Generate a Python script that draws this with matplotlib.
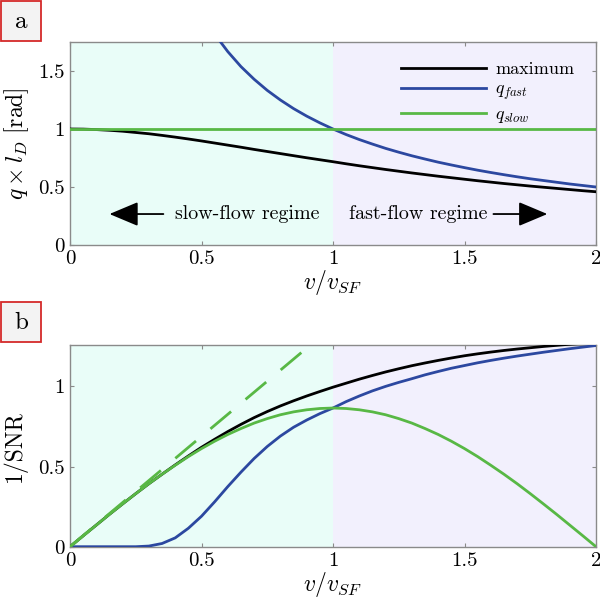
import numpy as np
import matplotlib
matplotlib.use("Agg")
import matplotlib.pyplot as plt
from matplotlib.patches import Rectangle

plt.rcParams['font.family'] = 'serif'
plt.rcParams['font.serif'] = ['cmr10', 'DejaVu Serif']
plt.rcParams['mathtext.fontset'] = 'cm'
plt.rcParams['axes.unicode_minus'] = False

# ---------------- data ----------------
v = [0.00, 0.05, 0.10, 0.15, 0.20, 0.25, 0.30, 0.35, 0.40, 0.45,
     0.50, 0.55, 0.60, 0.65, 0.70, 0.75, 0.80, 0.85, 0.90, 0.95,
     1.00, 1.05, 1.10, 1.15, 1.20, 1.25, 1.30, 1.35, 1.40, 1.45,
     1.50, 1.55, 1.60, 1.65, 1.70, 1.75, 1.80, 1.85, 1.90, 1.95, 2.00]

# panel a
q_max = [1.000, 0.999, 0.995, 0.989, 0.981, 0.970, 0.959, 0.945, 0.930, 0.914,
         0.897, 0.879, 0.861, 0.843, 0.824, 0.806, 0.788, 0.770, 0.752, 0.735,
         0.718, 0.700, 0.683, 0.667, 0.651, 0.636, 0.621, 0.607, 0.593, 0.580,
         0.567, 0.554, 0.542, 0.530, 0.519, 0.508, 0.498, 0.488, 0.478, 0.468, 0.459]
v_fast = [0.55, 0.60, 0.65, 0.70, 0.75, 0.80, 0.85, 0.90, 0.95,
          1.00, 1.05, 1.10, 1.15, 1.20, 1.25, 1.30, 1.35, 1.40, 1.45,
          1.50, 1.55, 1.60, 1.65, 1.70, 1.75, 1.80, 1.85, 1.90, 1.95, 2.00]
q_fast = [1.818, 1.667, 1.538, 1.429, 1.333, 1.250, 1.176, 1.111, 1.053,
          1.000, 0.952, 0.909, 0.870, 0.833, 0.800, 0.769, 0.741, 0.714, 0.690,
          0.667, 0.645, 0.625, 0.606, 0.588, 0.571, 0.556, 0.541, 0.526, 0.513, 0.500]
q_slow = [1.0] * len(v)

# panel b
snr_max = [0.000, 0.068, 0.135, 0.202, 0.267, 0.331, 0.393, 0.452, 0.510, 0.566,
           0.620, 0.670, 0.718, 0.763, 0.805, 0.843, 0.878, 0.910, 0.940, 0.968,
           0.995, 1.020, 1.045, 1.068, 1.090, 1.110, 1.129, 1.146, 1.162, 1.177,
           1.191, 1.203, 1.214, 1.224, 1.233, 1.241, 1.249, 1.256, 1.263, 1.269, 1.275]
snr_fast = [0.000, 0.000, 0.000, 0.000, 0.000, 0.000, 0.004, 0.020, 0.055, 0.115,
            0.190, 0.280, 0.375, 0.465, 0.550, 0.625, 0.690, 0.745, 0.790, 0.830,
            0.865, 0.905, 0.940, 0.972, 1.000, 1.025, 1.048, 1.072, 1.093, 1.113,
            1.130, 1.147, 1.162, 1.176, 1.189, 1.201, 1.213, 1.224, 1.235, 1.245, 1.255]
snr_slow = [0.000, 0.068, 0.135, 0.202, 0.267, 0.331, 0.393, 0.452, 0.508, 0.562,
            0.612, 0.658, 0.700, 0.737, 0.771, 0.799, 0.823, 0.841, 0.854, 0.862,
            0.865, 0.862, 0.854, 0.841, 0.823, 0.799, 0.771, 0.737, 0.700, 0.658,
            0.612, 0.562, 0.508, 0.452, 0.393, 0.331, 0.267, 0.202, 0.135, 0.068, 0.000]
v_lin = [0.0, 0.89]
snr_lin = [0.0, 1.225]

x_ticks = [0, 0.5, 1, 1.5, 2]
x_ticklabels = ['0', '0.5', '1', '1.5', '2']
ya_ticks = [0, 0.5, 1, 1.5]
ya_ticklabels = ['0', '0.5', '1', '1.5']
yb_ticks = [0, 0.5, 1]
yb_ticklabels = ['0', '0.5', '1']

# ---------------- style ----------------
C_BLACK = 'black'
C_BLUE = '#2c48a0'
C_GREEN = '#58b845'
BG_SLOW = '#e9fdf8'
BG_FAST = '#f2f0fd'
SPINE = '#8a8a8a'
LW = 2.0
FS = 15

fig = plt.figure(figsize=(6, 6), dpi=100)
axa = fig.add_axes([70/600, 1-245/600, 526/600, 203/600])
axb = fig.add_axes([70/600, 1-546.7/600, 526/600, 202/600])


def style(ax, yt, ytl, ymax):
    ax.axvspan(0, 1, color=BG_SLOW, lw=0, zorder=0)
    ax.axvspan(1, 2, color=BG_FAST, lw=0, zorder=0)
    ax.set_xlim(0, 2)
    ax.set_ylim(0, ymax)
    ax.set_xticks(x_ticks)
    ax.set_xticklabels(x_ticklabels, fontsize=FS)
    ax.set_yticks(yt)
    ax.set_yticklabels(ytl, fontsize=FS)
    ax.tick_params(direction='in', length=3, color=SPINE, top=True, right=True, pad=4)
    for s in ax.spines.values():
        s.set_color(SPINE)
        s.set_linewidth(1.0)
    ax.set_xlabel(r'$v/v_{SF}$', fontsize=FS + 2, labelpad=0)


# panel a
style(axa, ya_ticks, ya_ticklabels, 1.75)
axa.plot(v, q_max, color=C_BLACK, lw=LW, label='maximum', zorder=3)
axa.plot(v_fast, q_fast, color=C_BLUE, lw=LW, label=r'$q_{fast}$', zorder=3)
axa.plot(v, q_slow, color=C_GREEN, lw=LW, label=r'$q_{slow}$', zorder=3)
axa.set_ylabel(r'$q \times l_D\ \mathrm{[rad]}$', fontsize=FS + 2, labelpad=5)
leg = axa.legend(loc='upper right', bbox_to_anchor=(0.99, 0.985), frameon=False,
                 fontsize=13, handlelength=4.75, labelspacing=0.25, handletextpad=0.5)

y_ar = 0.267
axa.text(0.40, y_ar, 'slow-flow regime', fontsize=14.4, va='center', ha='left')
axa.text(1.06, y_ar, 'fast-flow regime', fontsize=14.4, va='center', ha='left')
ap = dict(arrowstyle='-|>,head_length=1.0,head_width=0.42', color='black', lw=1.3,
          mutation_scale=18, shrinkA=0, shrinkB=0)
axa.annotate('', xy=(0.15, y_ar), xytext=(0.355, y_ar), arrowprops=ap)
axa.annotate('', xy=(1.815, y_ar), xytext=(1.61, y_ar), arrowprops=ap)

# panel b
style(axb, yb_ticks, yb_ticklabels, 1.26)
axb.plot(v, snr_max, color=C_BLACK, lw=LW, zorder=3)
axb.plot(v, snr_fast, color=C_BLUE, lw=LW, zorder=3)
axb.plot(v, snr_slow, color=C_GREEN, lw=LW, zorder=4)
axb.plot(v_lin, snr_lin, color=C_GREEN, lw=LW, dashes=(9.7, 6.8), zorder=4)
axb.set_ylabel('1/SNR', fontsize=FS + 2, labelpad=8)

# panel labels
for lab, ytop in (('a', 0), ('b', 301)):
    r = Rectangle((1/600, 1-(ytop+41)/600), 40/600, 40/600, transform=fig.transFigure,
                  facecolor='#f3f3f3', edgecolor='#d42a2a', lw=1.3)
    fig.add_artist(r)
    fig.text(21/600, 1-(ytop+22)/600, lab, fontsize=FS + 3, ha='center', va='center')

fig.savefig('out.png', dpi=100)
